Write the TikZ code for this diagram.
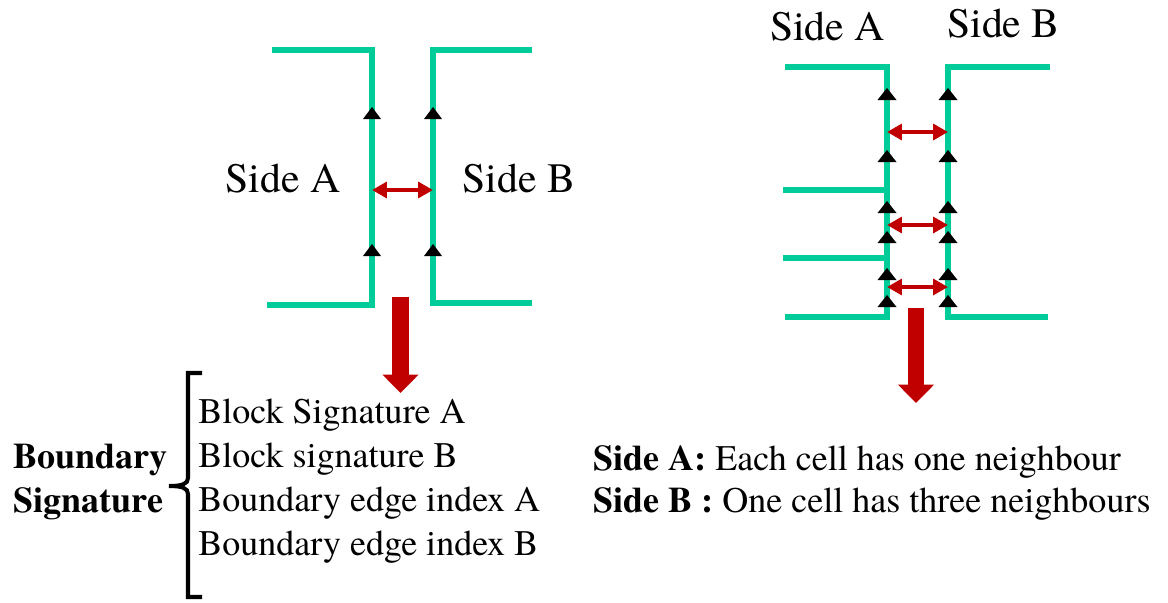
\documentclass[tikz,border=0pt]{standalone}
\usepackage{fontspec}
\setmainfont{TeX Gyre Termes}
\usetikzlibrary{arrows.meta}
\usetikzlibrary{calc}

\definecolor{wallgreen}{RGB}{0,204,153}
\definecolor{linkred}{RGB}{192,0,0}

\begin{document}
\begin{tikzpicture}[x=0.02cm, y=-0.02cm,
    wall/.style={wallgreen, line width=3.2pt},
    marker/.style={fill=black},
    link/.style={linkred, line width=2.6pt, {Triangle[length=8.5pt, width=9pt]}-{Triangle[length=8.5pt, width=9pt]}},
    bigarrow/.style={linkred, line width=9.4pt, -{Triangle[length=10.5pt, width=20pt]}},
    sidelabel/.style={font=\fontsize{23.8}{28}\selectfont, inner sep=0pt, anchor=base},
    textline/.style={font=\fontsize{20.5}{24}\selectfont, inner sep=0pt, anchor=base west}]

  \useasboundingbox (0,0) rectangle (1168,602);

  % Draw the walls of the first block pair
  \draw[wall] (272,50) -- (372,50) -- (372,305) -- (267,305);
  \draw[wall] (532,50) -- (433,50) -- (433,303) -- (532,303);

  % Edge markers on both walls
  \foreach \x in {372,433} {
    \foreach \y in {119,256} {
      \fill[marker] (\x,\y) ++(-9,0) -- ++(18,0) -- ++(-9,-12) -- cycle;
    }
  }

  % Link between the two sides
  \coordinate (la) at (372,190);
  \coordinate (lb) at (433,190);
  \draw[link] (la) -- (lb);

  \node[sidelabel] (sideA) at (283,192) {Side A};
  \node[sidelabel] (sideB) at (519,192) {Side B};

  % Arrow down to the signature
  \coordinate (startL) at (400.5,297);
  \coordinate (tipL) at (400.5,393);
  \draw[bigarrow] (startL) -- (tipL);

  % Signature list with brace
  \draw[line width=2.3pt] (202,373) -- (188,373) -- (188,478)
    .. controls (188,484) and (182,486) .. (169,486)
    .. controls (182,486) and (188,488) .. (188,494) -- (188,597) -- (202,597);
  \node[textline, font=\fontsize{20.5}{24}\selectfont\bfseries] (bnd) at (13,468) {Boundary};
  \node[textline, font=\fontsize{20.5}{24}\selectfont\bfseries] (sgn) at (13,512) {Signature};
  \foreach \t [count=\i] in {Block Signature A, Block signature B, Boundary edge index A, Boundary edge index B} {
    \node[textline] (item\i) at (198,{423+44*(\i-1)}) {\t};
  }

  % Draw the walls of the second block pair
  \draw[wall] (785,67) -- (887,67) -- (887,317) -- (785,317);
  \foreach \y in {190,258} {
    \draw[wall] (783,\y) -- (887,\y);
  }
  \draw[wall] (1050,67) -- (948,67) -- (948,317) -- (1048,317);

  % Edge markers on both walls
  \foreach \x in {887,948} {
    \foreach \y in {100,162,213,243,280,307} {
      \fill[marker] (\x,\y) ++(-9.5,0) -- ++(19,0) -- ++(-9.5,-12) -- cycle;
    }
  }

  % Links between the cells
  \foreach \y [count=\i] in {132,225,287} {
    \coordinate (ra\i) at (887,\y);
    \coordinate (rb\i) at (948,\y);
    \draw[link] (ra\i) -- (rb\i);
  }

  \node[sidelabel] (topA) at (827.5,40) {Side A};
  \node[sidelabel] (topB) at (1003.5,37) {Side B};

  % Arrow down to the summary
  \coordinate (startR) at (916,308);
  \coordinate (tipR) at (916,403);
  \draw[bigarrow] (startR) -- (tipR);

  % Summary
  \node[textline] (sumA) at (593,470) {\textbf{Side A:} Each cell has one neighbour};
  \node[textline] (sumB) at (593,512) {\textbf{Side B :} One cell has three neighbours};
\end{tikzpicture}
\end{document}
